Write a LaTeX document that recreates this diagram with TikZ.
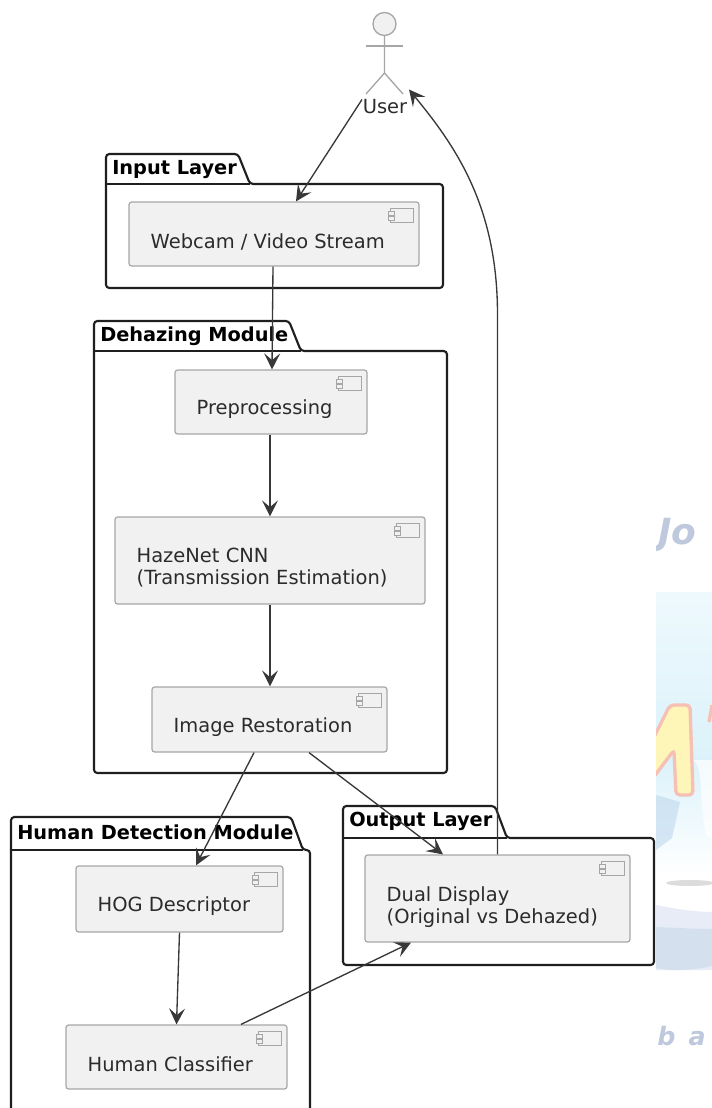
\documentclass[tikz,border=0pt]{standalone}
\usepackage{fontspec}
\setmainfont{DejaVu Sans}
\usetikzlibrary{arrows.meta}
\definecolor{boxfill}{HTML}{F1F1F1}
\definecolor{boxline}{HTML}{A6A6A6}
\definecolor{ink}{HTML}{2B2B2B}
\definecolor{wmtext}{HTML}{BFC9DE}
\definecolor{globea}{HTML}{EEF9FD}
\definecolor{globeb}{HTML}{DCF2FA}
\definecolor{banda}{HTML}{E8ECF6}
\definecolor{bandb}{HTML}{D5E0EE}
\definecolor{mfill}{HTML}{FDF6B8}
\definecolor{mline}{HTML}{F6C0B4}
\definecolor{mblue}{HTML}{BFD8EE}
\tikzset{
  compbox/.style={draw=boxline,fill=boxfill,line width=0.9pt,rounded corners=2pt,inner sep=0pt},
  comptext/.style={anchor=west,inner sep=0pt,align=left,text=ink,font=\fontsize{14.6}{16.5}\selectfont},
  pack/.style={draw=black!88,line width=1.6pt,rounded corners=2.5pt,fill=white},
  packtext/.style={anchor=west,inner sep=0pt,font=\fontsize{14.5}{16}\selectfont\bfseries},
  conn/.style={draw=black!78,line width=1pt,-{Stealth[length=12pt,width=12pt,inset=5pt]}},
  actorline/.style={draw=boxline,line width=1pt},
}
\newcommand{\comp}[7][7.5]{%
  \node[compbox,minimum width=#5*0.75pt,minimum height=#6*0.75pt] (#2) at (#3,#4) {};
  \node[comptext] (#2t) at ([xshift=22*0.75pt,yshift=-#1*0.75pt]#2.west) {#7};
  \begin{scope}[shift={(#2.north east)}]
    \draw[draw=boxline,line width=0.75pt] (-29,7) rectangle (-6,21);
    \draw[draw=boxline,line width=0.75pt,fill=boxfill] (-31,10) rectangle (-25,14);
    \draw[draw=boxline,line width=0.75pt,fill=boxfill] (-31,15) rectangle (-25,19);
  \end{scope}
}
\newcommand{\package}[8]{% name, x1, ytab, xtab, ybody, x2, y2, text
  \draw[pack] (#2,#5) -- (#2,#3) -- (#4-12,#3) -- (#4,#5) -- (#6,#5) -- (#6,#7) -- (#2,#7) -- cycle;
  \draw[pack] (#2,#5) -- (#4,#5);
  \node[packtext] (#1) at (#2+6,#3+15.5) {#8};
}
\begin{document}
\begin{tikzpicture}[x=0.75pt,y=-0.75pt]
\clip (0,0) rectangle (712,1108);
\fill[white] (0,0) rectangle (712,1108);
% faint background image at the right edge
\begin{scope}
  \clip (656,0) rectangle (712,1108);
  \node[anchor=west,inner sep=0pt,text=wmtext,font=\fontsize{27}{27}\selectfont\itshape\bfseries] (wmtop) at (658,535) {Jo};
  \fill[top color=globea,bottom color=globeb] (656,592) rectangle (712,760);
  \fill[top color=globeb,bottom color=white] (656,760) rectangle (712,875);
  \fill[white,opacity=.7] (692,760) .. controls (705,765) and (698,800) .. (706,835) -- (712,838) -- (712,760) -- cycle;
  \draw[draw=mline,fill=mfill,line width=2.5pt,rounded corners=3pt] (650,745) -- (670,705) -- (690,705) -- (693,795) -- (676,795) -- (674,750) -- (650,782);
  \draw[draw=mline,line width=2.5pt] (712,705) -- (709,722);
  \fill[mblue,opacity=.6] (656,795) -- (680,802) -- (672,838) -- (656,850) -- cycle;
  \fill[black!30,opacity=.45] (690,883) ellipse (24 and 3);
  \fill[banda] (656,905) .. controls (680,910) and (700,912) .. (712,912) -- (712,970) -- (656,970) -- cycle;
  \fill[bandb] (656,927) .. controls (680,928) and (700,929) .. (712,929) -- (712,966) .. controls (690,971) and (670,971) .. (656,968) -- cycle;
  \node[anchor=west,inner sep=0pt,text=wmtext,font=\fontsize{19}{19}\selectfont\bfseries\itshape] (wmbot) at (657,1036) {b\hspace{10pt}a};
\end{scope}
% packages
\package{inputl}{106}{154}{250}{184}{443}{288}{Input Layer}
\package{dehaz}{94}{321}{301}{351}{447}{773}{Dehazing Module}
\package{human}{11}{817}{303}{850}{310}{1130}{Human Detection Module}
\package{output}{343}{806}{507}{838}{654}{965}{Output Layer}
% components
\comp{wc}{274}{234}{290}{64}{Webcam / Video Stream}
\comp{pre}{271}{402}{192}{64}{Preprocessing}
\comp{haze}{270}{560.5}{310}{87}{HazeNet CNN\\(Transmission Estimation)}
\comp{rest}{269.5}{719.5}{235}{65}{Image Restoration}
\comp{hog}{179.5}{899}{207}{66}{HOG Descriptor}
\comp{cls}{176.5}{1057}{221}{64}{Human Classifier}
\comp[9]{dual}{497.5}{898.5}{265}{87}{Dual Display\\(Original vs Dehazed)}
% actor
\node[circle,draw=boxline,fill=boxfill,line width=1pt,minimum size=23*0.75pt,inner sep=0pt] (head) at (384.5,24) {};
\draw[actorline] (366,46) -- (403,46);
\draw[actorline] (head.south) -- (384.5,73) -- (366,94);
\draw[actorline] (384.5,73) -- (403,94);
\node[inner sep=0pt,text=ink,font=\fontsize{14.6}{16}\selectfont] (user) at (385,107) {User};
% connectors
\draw[conn] ([xshift=-23*0.75pt]user.north) -- ([xshift=22*0.75pt]wc.north);
\draw[conn] ([xshift=-1*0.75pt]wc.south) -- ([xshift=1*0.75pt]pre.north);
\draw[conn] ([xshift=-1*0.75pt]pre.south) -- (haze.north);
\draw[conn] (haze.south) -- ([xshift=0.5*0.75pt]rest.north);
\draw[conn] ([xshift=-15.5*0.75pt]rest.south) -- ([xshift=16.5*0.75pt]hog.north);
\draw[conn] ([xshift=39.5*0.75pt]rest.south) -- ([xshift=-54.5*0.75pt]dual.north);
\draw[conn] (hog.south) -- (cls.north);
\draw[conn] ([xshift=64.5*0.75pt]cls.north) -- ([xshift=-86.5*0.75pt]dual.south);
\draw[conn] (dual.north) -- ++(0,-540) .. controls ++(0,-110) and ++(45,55) .. ([xshift=24*0.75pt,yshift=10*0.75pt]user.north);
\end{tikzpicture}
\end{document}
